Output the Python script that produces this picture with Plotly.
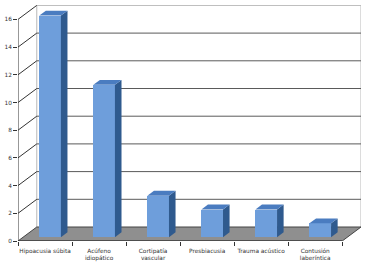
import plotly.graph_objects as go

categories = ["Hipoacusia súbita", "Acúfeno<br>idiopático", "Cortipatía<br>vascular",
              "Presbiacusia", "Trauma acústico", "Contusión<br>laberíntica"]
values = [16, 11, 3, 2, 2, 1]
y_ticks = [0, 2, 4, 6, 8, 10, 12, 14, 16]

# pseudo-3D geometry (in axis units)
n = len(categories)
X0, X1 = -0.5, n - 0.5
DX, DY = 0.3475, 1.011          # depth offset of back wall
F0, F1 = 0.27, 0.62             # bar front / back depth fractions
W = 0.40                        # bar width
YMAX = 17.04

FRONT = "#6e9edb"
SIDE = "#2f5a8e"
TOP = "#4a7cc0"
GRID = "#5a5a5a"
LIGHT = "#b8b8b8"
FLOOR = "#8f8f8f"

fig = go.Figure()

shapes = []
# back wall border (light)
shapes.append(dict(type="line", x0=X0 + DX, y0=DY, x1=X0 + DX, y1=y_ticks[-1] + DY,
                   line=dict(color=LIGHT, width=1), layer="below"))
shapes.append(dict(type="line", x0=X1 + DX, y0=DY, x1=X1 + DX, y1=y_ticks[-1] + DY,
                   line=dict(color=LIGHT, width=1), layer="below"))
shapes.append(dict(type="line", x0=X0 + DX, y0=y_ticks[-1] + DY, x1=X1 + DX, y1=y_ticks[-1] + DY,
                   line=dict(color=LIGHT, width=1), layer="below"))
# grid lines on back wall and left wall
for t in y_ticks[1:]:
    if t != y_ticks[-1]:
        shapes.append(dict(type="line", x0=X0 + DX, y0=t + DY, x1=X1 + DX, y1=t + DY,
                           line=dict(color=GRID, width=1), layer="below"))
    shapes.append(dict(type="line", x0=X0, y0=t, x1=X0 + DX, y1=t + DY,
                       line=dict(color="#333333", width=1), layer="below"))
# floor
shapes.append(dict(type="path",
                   path=f"M {X0},0 L {X1},0 L {X1 + DX},{DY} L {X0 + DX},{DY} Z",
                   fillcolor=FLOOR, line=dict(color="#444444", width=1), layer="below"))
# front y axis line
shapes.append(dict(type="line", x0=X0, y0=0, x1=X0, y1=y_ticks[-1],
                   line=dict(color="#333333", width=1), layer="below"))
# front x axis line
shapes.append(dict(type="line", x0=X0, y0=0, x1=X1, y1=0,
                   line=dict(color="#333333", width=1), layer="below"))

# bars: front faces
xs = [i + F0 * DX for i in range(n)]
fig.add_trace(go.Bar(x=xs, y=values, base=F0 * DY, width=W,
                     marker=dict(color=FRONT, line=dict(width=0)), hoverinfo="skip"))

ddx = (F1 - F0) * DX
ddy = (F1 - F0) * DY
for i, v in enumerate(values):
    xl = xs[i] - W / 2
    xr = xs[i] + W / 2
    b = F0 * DY
    top = b + v
    fig.add_trace(go.Scatter(x=[xr, xr + ddx, xr + ddx, xr, xr],
                             y=[b, b + ddy, top + ddy, top, b],
                             fill="toself", fillcolor=SIDE, mode="lines",
                             line=dict(width=0, color=SIDE), hoverinfo="skip"))
    fig.add_trace(go.Scatter(x=[xl, xr, xr + ddx, xl + ddx, xl],
                             y=[top, top, top + ddy, top + ddy, top],
                             fill="toself", fillcolor=TOP, mode="lines",
                             line=dict(width=0, color=TOP), hoverinfo="skip"))

# boundary tick marks on overlay axis
boundaries = [X0 + k for k in range(n + 1)]
fig.add_trace(go.Scatter(x=[X0], y=[0], xaxis="x2", mode="markers",
                         marker=dict(size=0.1, opacity=0), hoverinfo="skip"))

font = dict(family="DejaVu Sans", size=5.8, color="#333333")
fig.update_layout(
    width=365, height=268,
    margin=dict(l=14, r=4, t=5, b=27),
    paper_bgcolor="white", plot_bgcolor="white",
    showlegend=False, shapes=shapes, bargap=0,
    xaxis=dict(range=[X0, X1 + DX], tickvals=list(range(n)), ticktext=categories,
               showgrid=False, zeroline=False, showline=False, ticks="",
               tickfont=font, ticklabelstandoff=5),
    xaxis2=dict(range=[X0, X1 + DX], overlaying="x", anchor="y", side="bottom",
                tickvals=boundaries, showticklabels=False, ticks="outside", ticklen=4,
                tickcolor="#333333", showgrid=False, zeroline=False, showline=False),
    yaxis=dict(range=[0, YMAX], tickvals=y_ticks, showgrid=False, zeroline=False,
               showline=False, ticks="outside", ticklen=4, tickcolor="#333333",
               tickfont=font),
)

fig.write_html("out.html")
